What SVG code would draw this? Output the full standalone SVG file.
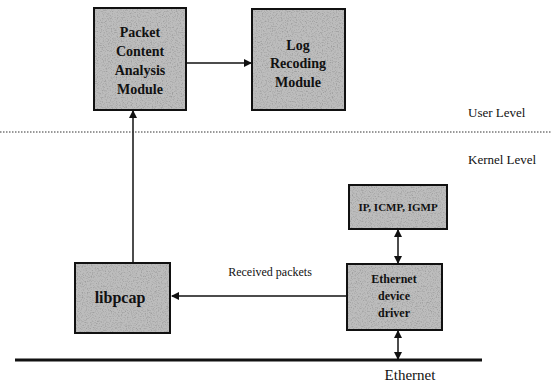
<svg xmlns="http://www.w3.org/2000/svg" width="551" height="384" viewBox="0 0 551 384">
<style>
.fill{fill:#bdbdbd;filter:url(#grain)}
.edge{fill:none;stroke:#111;stroke-width:2}
text{font-family:'Liberation Serif','Times New Roman','DejaVu Serif',serif;fill:#111}
.bt{font-weight:bold;text-anchor:middle}
.ln{stroke:#111;stroke-width:1.5;fill:none}
</style>
<defs>
<filter id="grain" x="0" y="0" width="1" height="1">
<feTurbulence type="fractalNoise" baseFrequency="0.8" numOctaves="2" seed="3" result="n"/>
<feColorMatrix in="n" type="matrix" values="0 0 0 0 0.35  0 0 0 0 0.35  0 0 0 0 0.35  0 0 0 -3 1.6" result="g"/>
<feComposite in="g" in2="SourceGraphic" operator="in" result="gc"/>
<feMerge><feMergeNode in="SourceGraphic"/><feMergeNode in="gc"/></feMerge>
</filter>
<marker id="ah" markerWidth="8" markerHeight="8" refX="7" refY="4" orient="auto-start-reverse" markerUnits="userSpaceOnUse">
<path d="M0,0 L8,4 L0,8 z" fill="#111"/>
</marker>
</defs>
<g id="connectors">
<line class="ln" x1="186" y1="63" x2="251" y2="63" marker-end="url(#ah)"/>
<line class="ln" x1="133" y1="263" x2="133" y2="111" marker-end="url(#ah)"/>
<line class="ln" x1="346" y1="296" x2="172" y2="296" marker-end="url(#ah)"/>
<line class="ln" x1="398" y1="230" x2="398" y2="263" marker-start="url(#ah)" marker-end="url(#ah)"/>
<line class="ln" x1="398" y1="331" x2="398" y2="359" marker-start="url(#ah)" marker-end="url(#ah)"/>
</g>
<line x1="0" y1="132" x2="551" y2="132" stroke="#333" stroke-width="1" stroke-dasharray="1.5,1.5"/>
<line x1="15" y1="360" x2="482" y2="360" stroke="#111" stroke-width="3"/>
<text x="468" y="117" font-size="13">User  Level</text>
<text x="468" y="164" font-size="13">Kernel Level</text>
<text x="410" y="380" font-size="15" text-anchor="middle">Ethernet</text>
<text x="270" y="276" font-size="12" text-anchor="middle">Received packets</text>
<g id="pcam">
<rect class="fill" x="94" y="8" width="92" height="102"/>
<rect class="edge" x="94" y="8" width="92" height="102"/>
<text class="bt" x="140" y="37" font-size="14">Packet</text>
<text class="bt" x="140" y="56" font-size="14">Content</text>
<text class="bt" x="140" y="75" font-size="14">Analysis</text>
<text class="bt" x="140" y="94" font-size="14">Module</text>
</g>
<g id="lrm">
<rect class="fill" x="252" y="9" width="93" height="101"/>
<rect class="edge" x="252" y="9" width="93" height="101"/>
<text class="bt" x="298" y="50" font-size="14">Log</text>
<text class="bt" x="298" y="68" font-size="14">Recoding</text>
<text class="bt" x="298" y="87" font-size="14">Module</text>
</g>
<g id="ip">
<rect class="fill" x="349" y="185" width="98" height="44"/>
<rect class="edge" x="349" y="185" width="98" height="44"/>
<text class="bt" x="398" y="211" font-size="11">IP, ICMP, IGMP</text>
</g>
<g id="driver">
<rect class="fill" x="347" y="264" width="95" height="66"/>
<rect class="edge" x="347" y="264" width="95" height="66"/>
<text class="bt" x="394" y="283" font-size="12">Ethernet</text>
<text class="bt" x="394" y="300" font-size="12">device</text>
<text class="bt" x="394" y="317" font-size="12">driver</text>
</g>
<g id="libpcap">
<rect class="fill" x="75" y="263" width="95" height="70"/>
<rect class="edge" x="75" y="263" width="95" height="70"/>
<text class="bt" x="120" y="303" font-size="16">libpcap</text>
</g>
</svg>
